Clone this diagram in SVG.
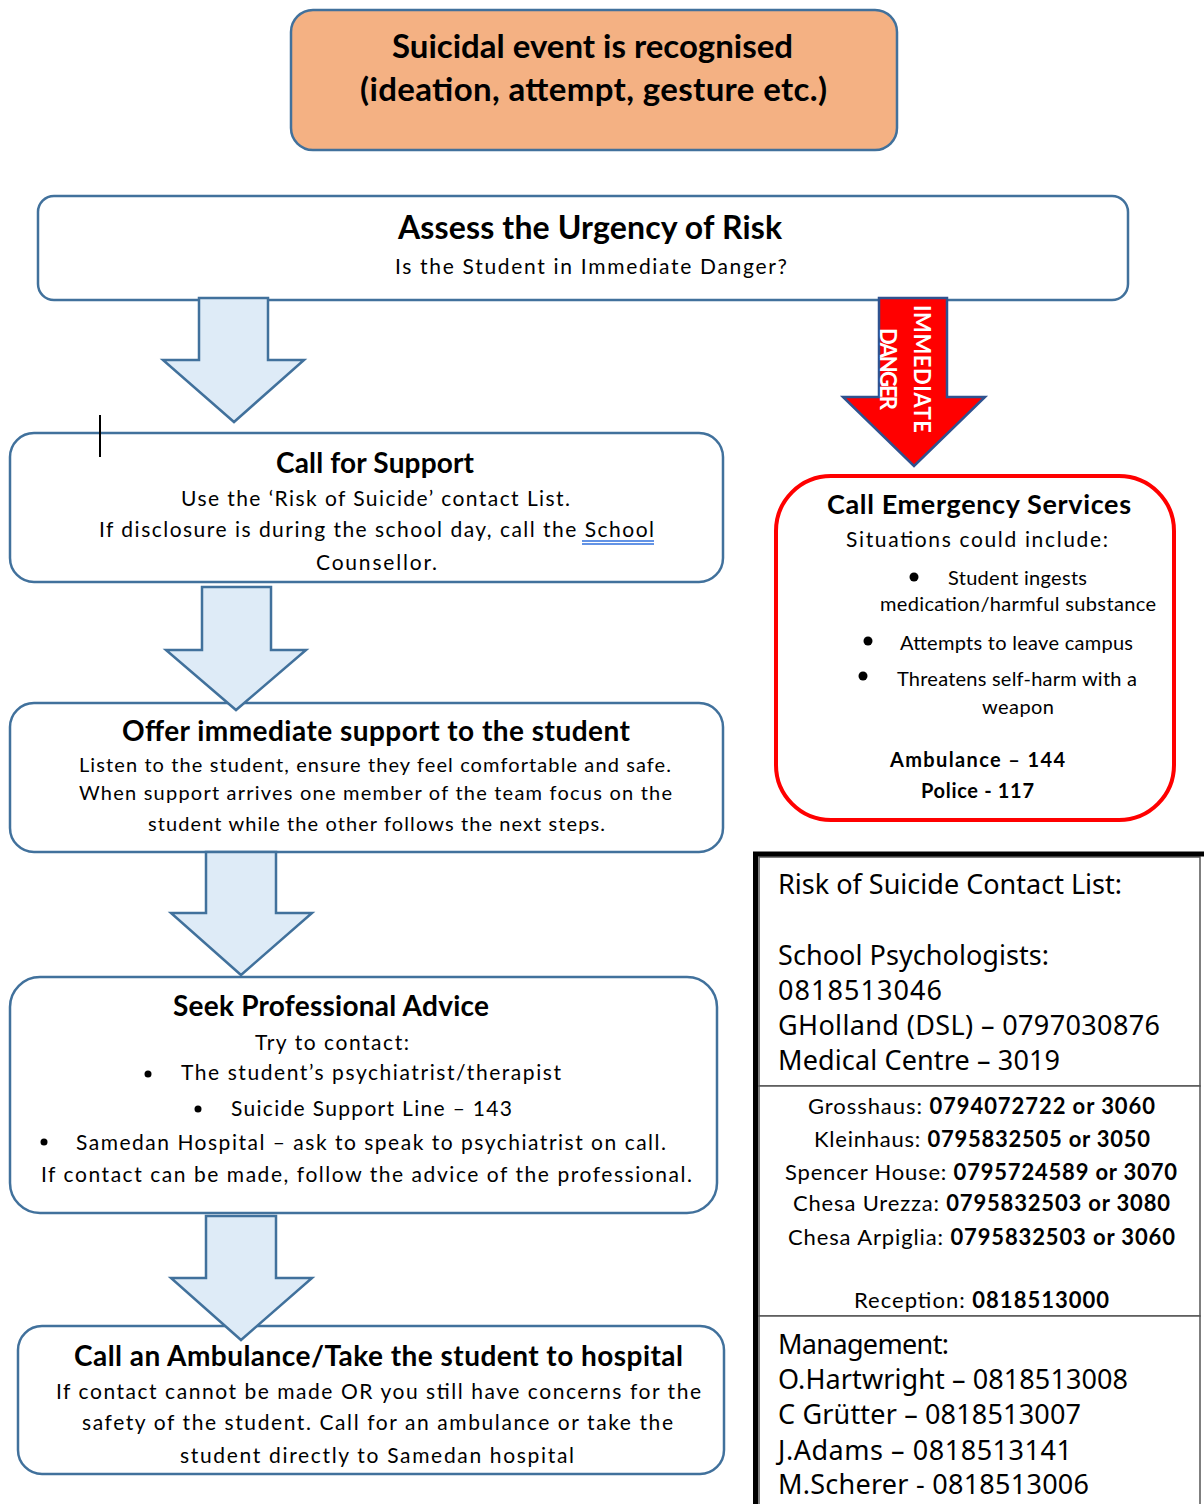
<svg xmlns="http://www.w3.org/2000/svg" width="1204" height="1504" viewBox="0 0 1204 1504">
<style>
.box{fill:#fff;stroke:#41719c;stroke-width:2.5}
.arr{fill:#deebf7;stroke:#41719c;stroke-width:2.5}
.t{font-family:Lato,"Liberation Sans",sans-serif;fill:#000}
.h{font-weight:bold;font-size:28px}
.b{font-size:21px}
.s{font-size:20px}
.c{font-family:"Noto Sans","Open Sans",sans-serif;fill:#000;font-size:27px}
.mid{font-size:22px}
.w{fill:#fff;font-weight:bold;font-size:22px}
</style>
<rect width="1204" height="1504" fill="#fff"/>
<g id="suicidal-event">
<rect x="291" y="10" width="606" height="140" rx="22" fill="#f4b183" stroke="#41719c" stroke-width="2.5"/>
<text class="t h" x="392" y="58" style="font-size:33px" textLength="401">Suicidal event is recognised</text>
<text class="t h" x="360" y="101" style="font-size:33px" textLength="467">(ideation, attempt, gesture etc.)</text>
</g>
<g id="assess">
<rect class="box" x="38" y="196" width="1090" height="104" rx="16"/>
<text class="t h" x="398" y="239" style="font-size:32px" textLength="384">Assess the Urgency of Risk</text>
<text class="t b" x="395" y="274" textLength="392">Is the Student in Immediate Danger?</text>
</g>
<g id="call-support">
<rect class="box" x="10" y="433" width="713" height="149" rx="24"/>
<text class="t h" x="276" y="473" textLength="198">Call for Support</text>
<text class="t b" x="181" y="506" textLength="389">Use the ‘Risk of Suicide’ contact List.</text>
<text class="t b" x="99" y="537" textLength="555">If disclosure is during the school day, call the School</text>
<line x1="582" y1="541" x2="654" y2="541" stroke="#2f6fdc" stroke-width="1.5"/>
<line x1="582" y1="544" x2="654" y2="544" stroke="#2f6fdc" stroke-width="1.5"/>
<text class="t b" x="316" y="570" textLength="121">Counsellor.</text>
</g>
<line x1="100" y1="415" x2="100" y2="457" stroke="#000" stroke-width="2"/>
<g id="offer-support">
<rect class="box" x="10" y="703" width="713" height="149" rx="24"/>
<text class="t h" x="122" y="741" textLength="508">Offer immediate support to the student</text>
<text class="t s" x="79" y="772" textLength="592">Listen to the student, ensure they feel comfortable and safe.</text>
<text class="t s" x="79" y="800" textLength="593">When support arrives one member of the team focus on the</text>
<text class="t s" x="148" y="831" textLength="457">student while the other follows the next steps.</text>
</g>
<g id="seek-advice">
<rect class="box" x="10" y="977" width="707" height="236" rx="30"/>
<text class="t h" x="173" y="1016" textLength="316">Seek Professional Advice</text>
<text class="t b" x="255" y="1050" textLength="154">Try to contact:</text>
<circle cx="148" cy="1074" r="3.5"/>
<text class="t b" x="181" y="1080" textLength="380">The student’s psychiatrist/therapist</text>
<circle cx="198" cy="1109" r="3.5"/>
<text class="t b" x="231" y="1116" textLength="281">Suicide Support Line – 143</text>
<circle cx="44" cy="1142" r="3.5"/>
<text class="t b" x="76" y="1150" textLength="590">Samedan Hospital – ask to speak to psychiatrist on call.</text>
<text class="t b" x="41" y="1182" textLength="651">If contact can be made, follow the advice of the professional.</text>
</g>
<g id="ambulance-hospital">
<rect class="box" x="18" y="1326" width="706" height="148" rx="24"/>
<text class="t h" x="74" y="1366" textLength="609">Call an Ambulance/Take the student to hospital</text>
<text class="t b" x="56" y="1399" textLength="645">If contact cannot be made OR you still have concerns for the</text>
<text class="t b" x="82" y="1430" textLength="591">safety of the student. Call for an ambulance or take the</text>
<text class="t b" x="180" y="1463" textLength="394">student directly to Samedan hospital</text>
</g>
<g id="emergency">
<rect x="776" y="476" width="398" height="344" rx="55" fill="#fff" stroke="#ff0000" stroke-width="4"/>
<text class="t h" x="827" y="514" style="font-size:27px" textLength="304">Call Emergency Services</text>
<text class="t b" x="846" y="547" textLength="262">Situations could include:</text>
<circle cx="914" cy="577" r="4.5"/>
<text class="t s" x="948" y="585" textLength="139">Student ingests</text>
<text class="t s" x="880" y="611" textLength="276">medication/harmful substance</text>
<circle cx="868" cy="641" r="4.5"/>
<text class="t s" x="900" y="650" textLength="233">Attempts to leave campus</text>
<circle cx="863" cy="676" r="4.5"/>
<text class="t s" x="897" y="686" textLength="240">Threatens self-harm with a</text>
<text class="t s" x="982" y="714" textLength="72">weapon</text>
<text class="t s" x="890" y="767" font-weight="bold" textLength="175">Ambulance – 144</text>
<text class="t s" x="921" y="798" font-weight="bold" textLength="113">Police - 117</text>
</g>
<g id="contact-list">
<rect x="759" y="857" width="441" height="229" fill="#fff" stroke="#555" stroke-width="1.5"/>
<rect x="759" y="1086" width="441" height="230" fill="#fff" stroke="#555" stroke-width="1.5"/>
<rect x="759" y="1316" width="441" height="190" fill="#fff" stroke="#555" stroke-width="1.5"/>
<line x1="753" y1="854" x2="1204" y2="854" stroke="#000" stroke-width="5"/>
<line x1="755.5" y1="852" x2="755.5" y2="1504" stroke="#000" stroke-width="5"/>
<text class="c" x="778" y="894" textLength="344">Risk of Suicide Contact List:</text>
<text class="c" x="778" y="965" textLength="271">School Psychologists:</text>
<text class="c" x="778" y="1000" textLength="164">0818513046</text>
<text class="c" x="778" y="1035" textLength="382">GHolland (DSL) – 0797030876</text>
<text class="c" x="778" y="1070" textLength="282">Medical Centre – 3019</text>
<text class="t mid" x="808" y="1114" textLength="347">Grosshaus: <tspan font-weight="bold">0794072722 or 3060</tspan></text>
<text class="t mid" x="814" y="1147" textLength="336">Kleinhaus: <tspan font-weight="bold">0795832505 or 3050</tspan></text>
<text class="t mid" x="785" y="1180" textLength="392">Spencer House: <tspan font-weight="bold">0795724589 or 3070</tspan></text>
<text class="t mid" x="793" y="1211" textLength="377">Chesa Urezza: <tspan font-weight="bold">0795832503 or 3080</tspan></text>
<text class="t mid" x="788" y="1245" textLength="387">Chesa Arpiglia: <tspan font-weight="bold">0795832503 or 3060</tspan></text>
<text class="t mid" x="854" y="1308" textLength="255">Reception: <tspan font-weight="bold">0818513000</tspan></text>
<text class="c" x="778" y="1354" textLength="171">Management:</text>
<text class="c" x="778" y="1389" textLength="350">O.Hartwright – 0818513008</text>
<text class="c" x="778" y="1424" textLength="303">C Grütter – 0818513007</text>
<text class="c" x="778" y="1460" textLength="294">J.Adams – 0818513141</text>
<text class="c" x="778" y="1494" textLength="311">M.Scherer - 0818513006</text>
</g>
<g id="connectors">
<polygon class="arr" points="199,298 268,298 268,360 304,360 234,422 163,360 199,360"/>
<polygon class="arr" points="202,587 271,587 271,650 306,650 236,710 166,650 202,650"/>
<polygon class="arr" points="206,852 276,852 276,913 312,913 241,975 171,913 206,913"/>
<polygon class="arr" points="206,1216 276,1216 276,1278 312,1278 241,1340 171,1278 206,1278"/>
<g id="immediate-danger">
<polygon points="879,298 947,298 947,397 985,397 914,466 843,397 879,397" fill="#ff0000" stroke="#2f528f" stroke-width="2.5"/>
<text class="t w" transform="translate(914,305) rotate(90)" textLength="128">IMMEDIATE</text>
<text class="t w" transform="translate(880,328) rotate(90)" textLength="82">DANGER</text>
</g>
</g>
</svg>
